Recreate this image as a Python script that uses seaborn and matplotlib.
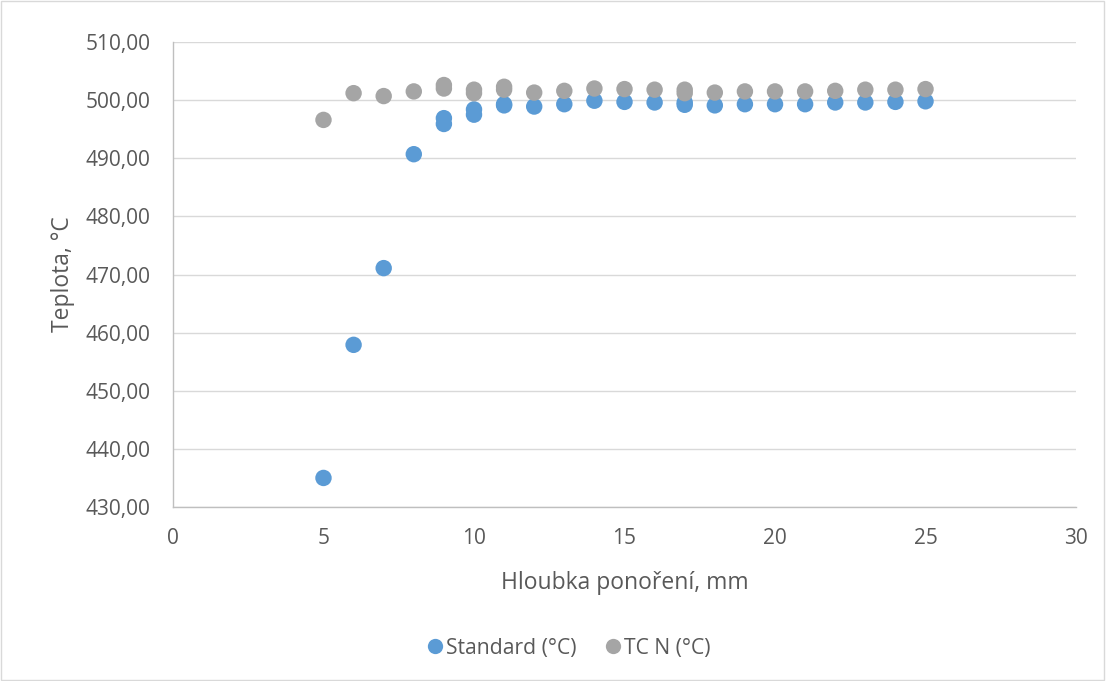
import matplotlib
matplotlib.use("Agg")
import matplotlib.pyplot as plt
import pandas as pd
import seaborn as sns
from matplotlib.patches import Rectangle
from matplotlib.ticker import FuncFormatter, MultipleLocator

# depth (mm) and temperature (°C)
depth_std = [5, 6, 7, 8, 9, 9, 10, 10, 11, 11, 12, 13, 14, 15, 16, 17, 17,
             18, 19, 20, 21, 22, 23, 24, 25]
temp_std = [435.0, 457.9, 471.1, 490.7, 496.9, 495.9, 498.4, 497.5, 499.3, 499.1,
            498.9, 499.3, 499.9, 499.7, 499.6, 499.6, 499.2, 499.1, 499.3, 499.3,
            499.3, 499.6, 499.6, 499.7, 499.8]

depth_tcn = [5, 6, 7, 8, 9, 9, 10, 10, 11, 11, 12, 13, 14, 15, 16, 17, 17,
             18, 19, 20, 21, 22, 23, 24, 25]
temp_tcn = [496.6, 501.2, 500.7, 501.5, 502.6, 502.0, 501.8, 501.2, 502.3, 501.8,
            501.3, 501.6, 502.0, 501.9, 501.8, 501.8, 501.2, 501.3, 501.5, 501.5,
            501.5, 501.6, 501.8, 501.8, 501.9]

series_names = ["Standard (°C)", "TC N (°C)"]
colors = ["#5b9bd5", "#a5a5a5"]

df = pd.concat([
    pd.DataFrame({"depth": depth_std, "temp": temp_std, "series": series_names[0]}),
    pd.DataFrame({"depth": depth_tcn, "temp": temp_tcn, "series": series_names[1]}),
])

sns.set_theme(style="white")
plt.rcParams["font.family"] = ["Open Sans", "DejaVu Sans"]

fig = plt.figure(figsize=(11.06, 6.81), dpi=100)
fig.patches.append(Rectangle((0.001, 0.001), 0.997, 0.997, transform=fig.transFigure,
                             fill=False, edgecolor="#d9d9d9", linewidth=1))
ax = fig.add_axes([0.1564, 0.2555, 0.8165, 0.6828])

# grey series first so blue sits on top where they overlap
sns.scatterplot(data=df, x="depth", y="temp", hue="series", hue_order=series_names[::-1],
                palette=dict(zip(series_names, colors)), s=140, linewidth=0,
                legend=False, ax=ax)

ax.set_xlim(0, 30)
ax.set_ylim(430, 510)
ax.xaxis.set_major_locator(MultipleLocator(5))
ax.yaxis.set_major_locator(MultipleLocator(10))
ax.yaxis.set_major_formatter(FuncFormatter(lambda v, p: f"{v:.2f}".replace(".", ",")))

ax.grid(axis="y", color="#d9d9d9", linewidth=1)
ax.set_axisbelow(True)
for side in ["top", "right"]:
    ax.spines[side].set_visible(False)
for side in ["bottom", "left"]:
    ax.spines[side].set_color("#bfbfbf")
    ax.spines[side].set_linewidth(1)
ax.tick_params(axis="both", length=0, labelsize=15, labelcolor="#595959")
ax.tick_params(axis="y", pad=16)
ax.tick_params(axis="x", pad=15)

ax.set_xlabel("Hloubka ponoření, mm", fontsize=16.5, color="#595959", labelpad=16)
ax.set_ylabel("Teplota, °C", fontsize=16.5, color="#595959", labelpad=8)

handles = [plt.Line2D([], [], marker="o", linestyle="", markersize=11,
                      markerfacecolor=c, markeredgewidth=0) for c in colors]
fig.legend(handles, series_names, loc="center", bbox_to_anchor=(0.513, 0.048), ncol=2,
           frameon=False, fontsize=15.2, labelcolor="#595959", handletextpad=0.05,
           columnspacing=1.2, handlelength=1.0)

fig.savefig("out.png", dpi=100)
plt.close(fig)
